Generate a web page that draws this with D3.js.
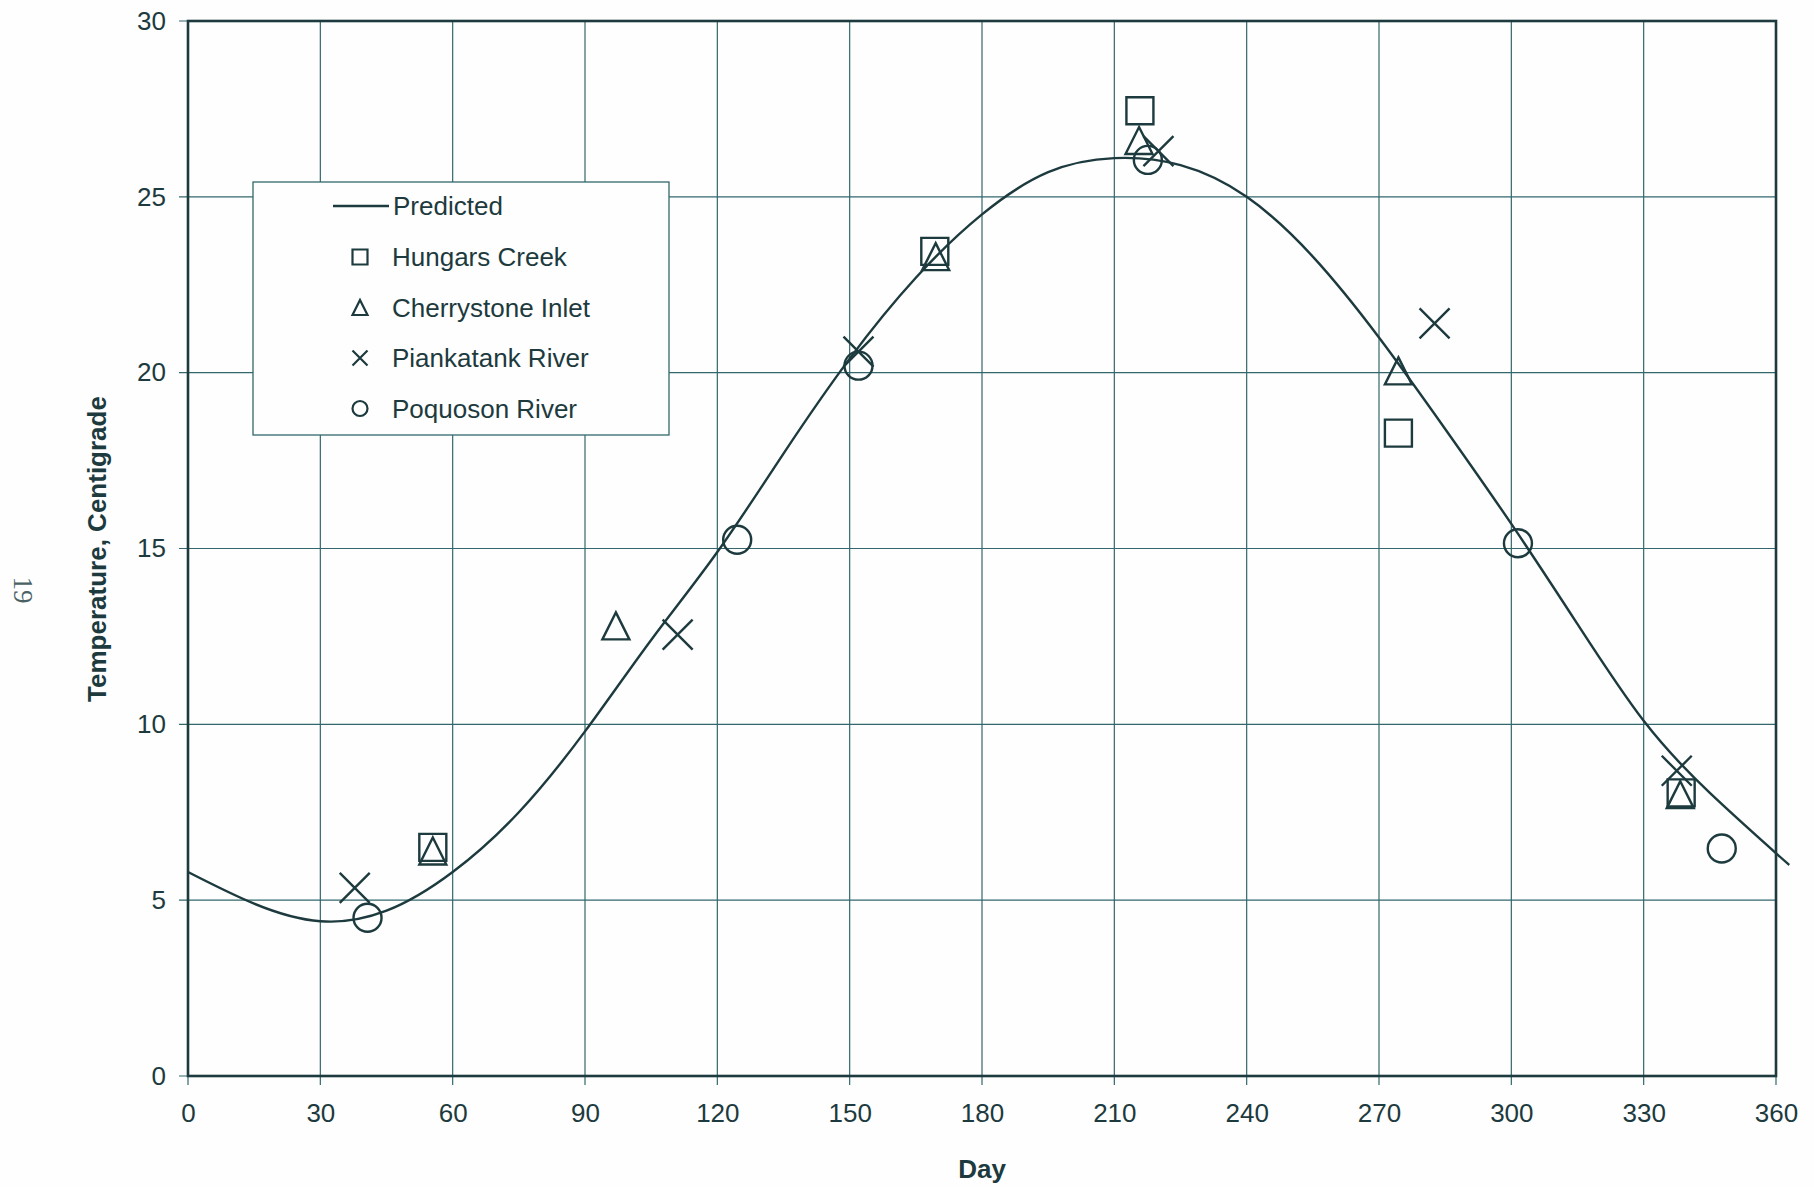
<!DOCTYPE html>
<html>
<head>
<meta charset="utf-8">
<script src="https://cdn.jsdelivr.net/npm/d3@7"></script>
<style>
  body { margin: 0; background: #fdfefd; }
  svg { display: block; }
  text { font-family: "Liberation Sans", Arial, sans-serif; fill: #1d3a3e; }
</style>
</head>
<body>
<svg id="chart" width="1814" height="1187"></svg>
<script>
// predicted curve
let predDays = [0, 15, 30, 45, 60, 75, 90, 105, 120, 135, 150, 165, 180, 195, 210, 225, 240, 255, 270, 285, 300, 315, 330, 345, 363];
let predTemps = [5.8, 4.9, 4.4, 4.7, 5.8, 7.5, 9.8, 12.4, 14.9, 17.7, 20.4, 22.7, 24.5, 25.7, 26.1, 25.9, 25.0, 23.3, 21.0, 18.4, 15.7, 12.85, 10.1, 8.05, 6.0];

// observed stations
let hungarsDays = [55.5, 169.3, 215.8, 274.4, 338.5];
let hungarsTemps = [6.5, 23.45, 27.45, 18.28, 8.05];
let cherryDays = [55.5, 97, 169.5, 215.6, 274.4, 338.3];
let cherryTemps = [6.4, 12.8, 23.3, 26.6, 20.05, 8.0];
let piankDays = [37.8, 111, 152, 220, 282.6, 337.5];
let piankTemps = [5.35, 12.55, 20.6, 26.3, 21.4, 8.68];
let poqDays = [40.7, 124.5, 152, 217.6, 301.5, 347.7];
let poqTemps = [4.5, 15.25, 20.2, 26.05, 15.15, 6.47];

let xTicks = [0, 30, 60, 90, 120, 150, 180, 210, 240, 270, 300, 330, 360];
let yTicks = [0, 5, 10, 15, 20, 25, 30];

let ink = "#1d3a3e";
let gridColor = "#33676c";

let svg = d3.select("#chart");
let plotLeft = 188, plotRight = 1776, plotTop = 21, plotBottom = 1076;

let xScale = d3.scaleLinear().domain([0, 360]).range([plotLeft, plotRight]);
let yScale = d3.scaleLinear().domain([0, 30]).range([plotBottom, plotTop]);

// marker paths, s = full width
function markerPath(type, s) {
  let h = s / 2;
  if (type == "square") return "M" + (-h) + "," + (-h) + "h" + s + "v" + s + "h" + (-s) + "Z";
  if (type == "triangle") return "M0," + (-h) + "L" + h + "," + h + "L" + (-h) + "," + h + "Z";
  if (type == "cross") return "M" + (-h) + "," + (-h) + "L" + h + "," + h + "M" + h + "," + (-h) + "L" + (-h) + "," + h;
  return d3.symbol().type(d3.symbolCircle).size(Math.PI * h * h)();
}

// grid
svg.append("g")
  .selectAll("line")
  .data(xTicks)
  .enter().append("line")
  .attr("x1", d => xScale(d)).attr("x2", d => xScale(d))
  .attr("y1", plotTop).attr("y2", plotBottom + 9)
  .style("stroke", gridColor).style("stroke-width", 1.2);
svg.append("g")
  .selectAll("line")
  .data(yTicks)
  .enter().append("line")
  .attr("x1", plotLeft - 9).attr("x2", plotRight)
  .attr("y1", d => yScale(d)).attr("y2", d => yScale(d))
  .style("stroke", gridColor).style("stroke-width", 1.2);

// axes (labels only, ticks drawn by grid)
let xAxis = d3.axisBottom(xScale).tickValues(xTicks).tickSize(0).tickPadding(28);
svg.append("g")
  .attr("transform", "translate(0," + plotBottom + ")")
  .call(xAxis)
  .call(g => g.select(".domain").remove())
  .selectAll("text")
  .style("font-size", "26px").style("fill", ink);

let yAxis = d3.axisLeft(yScale).tickValues(yTicks).tickSize(0).tickPadding(22);
svg.append("g")
  .attr("transform", "translate(" + plotLeft + ",0)")
  .call(yAxis)
  .call(g => g.select(".domain").remove())
  .selectAll("text")
  .style("font-size", "26px").style("fill", ink);

// frame
svg.append("rect")
  .attr("x", plotLeft).attr("y", plotTop)
  .attr("width", plotRight - plotLeft).attr("height", plotBottom - plotTop)
  .style("fill", "none").style("stroke", ink).style("stroke-width", 2.6);

// predicted line
let line = d3.line()
  .x((d, i) => xScale(predDays[i]))
  .y(d => yScale(d))
  .curve(d3.curveNatural);
svg.append("path")
  .datum(predTemps)
  .attr("d", line)
  .style("fill", "none").style("stroke", ink).style("stroke-width", 2.4);

// station markers
let stations = [
  { days: hungarsDays, temps: hungarsTemps, type: "square", size: 27 },
  { days: cherryDays, temps: cherryTemps, type: "triangle", size: 27 },
  { days: piankDays, temps: piankTemps, type: "cross", size: 30 },
  { days: poqDays, temps: poqTemps, type: "circle", size: 28 }
];
stations.forEach(function (st) {
  svg.append("g")
    .selectAll("path")
    .data(st.temps)
    .enter().append("path")
    .attr("transform", (d, i) => "translate(" + xScale(st.days[i]) + "," + yScale(d) + ")")
    .attr("d", markerPath(st.type, st.size))
    .style("fill", "none").style("stroke", ink).style("stroke-width", 2.4);
});

// legend
let legendNames = ["Hungars Creek", "Cherrystone Inlet", "Piankatank River", "Poquoson River"];
let legend = svg.append("g");
legend.append("rect")
  .attr("x", 253).attr("y", 182).attr("width", 416).attr("height", 253)
  .style("fill", "#fdfefd").style("stroke", gridColor).style("stroke-width", 1.3);
legend.append("line")
  .attr("x1", 333).attr("x2", 389).attr("y1", 206).attr("y2", 206)
  .style("stroke", ink).style("stroke-width", 2.6);
legend.append("text")
  .attr("x", 393).attr("y", 215)
  .style("font-size", "26px").text("Predicted");
legendNames.forEach(function (name, i) {
  let y = 257 + i * 50.5;
  legend.append("path")
    .attr("transform", "translate(360," + y + ")")
    .attr("d", markerPath(stations[i].type, 15))
    .style("fill", "none").style("stroke", ink).style("stroke-width", 2.2);
  legend.append("text")
    .attr("x", 392).attr("y", y + 9)
    .style("font-size", "26px").text(name);
});

// axis titles
svg.append("text")
  .attr("x", (plotLeft + plotRight) / 2).attr("y", 1178)
  .attr("text-anchor", "middle")
  .style("font-size", "26px").style("font-weight", "bold")
  .text("Day");
svg.append("text")
  .attr("transform", "translate(106,549) rotate(-90)")
  .attr("text-anchor", "middle")
  .style("font-size", "26px").style("font-weight", "bold")
  .text("Temperature, Centigrade");

// page number
svg.append("text")
  .attr("transform", "translate(14,590) rotate(90)")
  .attr("text-anchor", "middle")
  .style("font-family", "'Liberation Serif', serif")
  .style("font-size", "27px").style("fill", "#4a6266")
  .text("19");
</script>
</body>
</html>
